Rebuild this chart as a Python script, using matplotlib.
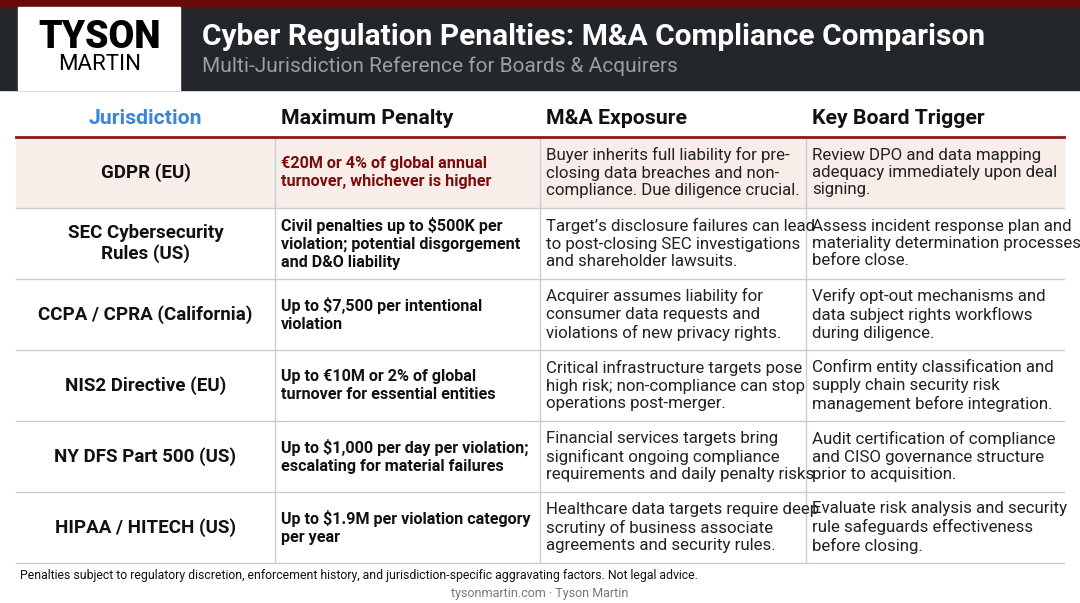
import matplotlib
matplotlib.use("Agg")
import matplotlib.pyplot as plt
from matplotlib.patches import Rectangle

plt.rcParams['font.family'] = ['Roboto', 'DejaVu Sans']

title = "Cyber Regulation Penalties: M&A Compliance Comparison"
subtitle = "Multi-Jurisdiction Reference for Boards & Acquirers"
headers = ["Jurisdiction", "Maximum Penalty", "M&A Exposure", "Key Board Trigger"]
jurisdictions = ["GDPR (EU)", "SEC Cybersecurity\nRules (US)", "CCPA / CPRA (California)",
                 "NIS2 Directive (EU)", "NY DFS Part 500 (US)", "HIPAA / HITECH (US)"]
penalties = [
    "€20M or 4% of global annual\nturnover, whichever is higher",
    "Civil penalties up to $500K per\nviolation; potential disgorgement\nand D&O liability",
    "Up to $7,500 per intentional\nviolation",
    "Up to €10M or 2% of global\nturnover for essential entities",
    "Up to $1,000 per day per violation;\nescalating for material failures",
    "Up to $1.9M per violation category\nper year",
]
exposure = [
    "Buyer inherits full liability for pre-\nclosing data breaches and non-\ncompliance. Due diligence crucial.",
    "Target’s disclosure failures can lead\nto post-closing SEC investigations\nand shareholder lawsuits.",
    "Acquirer assumes liability for\nconsumer data requests and\nviolations of new privacy rights.",
    "Critical infrastructure targets pose\nhigh risk; non-compliance can stop\noperations post-merger.",
    "Financial services targets bring\nsignificant ongoing compliance\nrequirements and daily penalty risks.",
    "Healthcare data targets require deep\nscrutiny of business associate\nagreements and security rules.",
]
triggers = [
    "Review DPO and data mapping\nadequacy immediately upon deal\nsigning.",
    "Assess incident response plan and\nmateriality determination processes\nbefore close.",
    "Verify opt-out mechanisms and\ndata subject rights workflows\nduring diligence.",
    "Confirm entity classification and\nsupply chain security risk\nmanagement before integration.",
    "Audit certification of compliance\nand CISO governance structure\nprior to acquisition.",
    "Evaluate risk analysis and security\nrule safeguards effectiveness\nbefore closing.",
]
footnote = "Penalties subject to regulatory discretion, enforcement history, and jurisdiction-specific aggravating factors. Not legal advice."
credit = "tysonmartin.com · Tyson Martin"

W, H = 1080, 603
fig = plt.figure(figsize=(W / 100, H / 100), dpi=100)
ax = fig.add_axes([0, 0, 1, 1])
ax.set_xlim(0, W)
ax.set_ylim(H, 0)
ax.axis("off")

# header band
ax.add_patch(Rectangle((0, 0), W, 90, color="#23262b", zorder=0))
ax.add_patch(Rectangle((0, 0), W, 7, color="#6b0a0a", zorder=1))
ax.add_patch(Rectangle((18, 7), 162, 83, color="white", zorder=2))
ax.text(100, 38, "TYSON", ha="center", va="center", fontsize=27, fontweight="heavy",
        color="black", zorder=3)
ax.text(100, 65, "MARTIN", ha="center", va="center", fontsize=16,
        color="black", zorder=3)
ax.text(202, 37, title, ha="left", va="center", fontsize=21.5, fontweight="bold",
        color="white")
ax.text(202, 66, subtitle, ha="left", va="center", fontsize=15, color="#9a9ea5")

cols = [16, 275, 540, 806, 1064]
row_top = 137
row_h = 71

for i, h in enumerate(headers):
    if i == 0:
        ax.text((cols[0] + cols[1]) / 2, 119, h, ha="center", va="center", fontsize=15.3,
                fontweight="bold", color="#3a86d8")
    else:
        ax.text(cols[i] + 6, 119, h, ha="left", va="center", fontsize=15.3,
                fontweight="bold", color="#111111")

n = len(jurisdictions)
ax.add_patch(Rectangle((cols[0], row_top), cols[-1] - cols[0], row_h, color="#f8ede8", zorder=0))
for r in range(n):
    y0 = row_top + r * row_h
    yc = y0 + row_h / 2
    ax.plot([cols[0], cols[-1]], [y0 + row_h] * 2, color="#c9ccd6", lw=1)
    ax.text((cols[0] + cols[1]) / 2, yc, jurisdictions[r], ha="center", va="center",
            fontsize=13.5, fontweight="bold", color="#111111", linespacing=1.2)
    ax.text(cols[1] + 6, yc, penalties[r], ha="left", va="center", fontsize=11.6,
            fontweight="bold", color="#7a0c0c" if r == 0 else "#111111", linespacing=1.25)
    ax.text(cols[2] + 6, yc, exposure[r], ha="left", va="center", fontsize=12.2,
            color="#222222", linespacing=1.2)
    ax.text(cols[3] + 6, yc, triggers[r], ha="left", va="center", fontsize=12.2,
            color="#222222", linespacing=1.2)
for x in cols[1:-1]:
    ax.plot([x, x], [row_top, row_top + n * row_h], color="#c9ccd6", lw=1)
ax.plot([cols[0], cols[-1]], [row_top, row_top], color="#8b1a1a", lw=2)

ax.text(20, 575, footnote, ha="left", va="center", fontsize=8.8, color="#111111")
ax.text(W / 2, 594, credit, ha="center", va="center", fontsize=9, color="#777777")

fig.savefig("out.png", dpi=100)
